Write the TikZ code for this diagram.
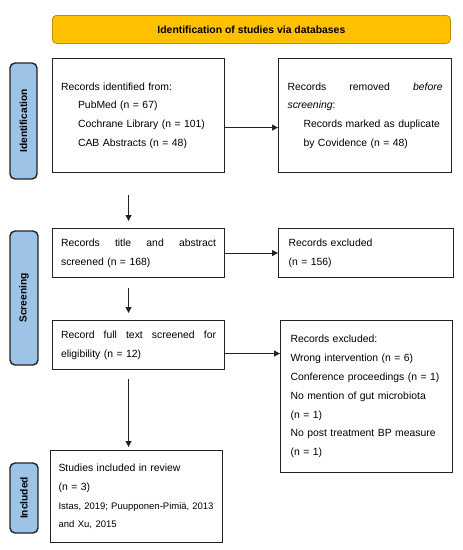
\documentclass[tikz,border=0pt]{standalone}
\usepackage{fontspec}
\setmainfont{Liberation Sans}
\usetikzlibrary{arrows.meta,calc}
\definecolor{banfill}{RGB}{255,192,0}
\definecolor{bandraw}{RGB}{191,144,0}
\definecolor{sidefill}{RGB}{157,195,230}
\definecolor{linegray}{RGB}{35,35,35}
\begin{document}
\begin{tikzpicture}[x=1pt,y=-1pt,
  box/.style={draw=linegray, line width=1.1pt, rectangle, inner xsep=8.5pt, inner ysep=2pt,
    align=left, font=\fontsize{10.4}{18.8}\selectfont, anchor=north west,
    minimum width=172pt, text width=155pt},
  banner/.style={draw=bandraw, fill=banfill, line width=0.8pt, rounded corners=4pt,
    font=\fontsize{10.4}{12}\selectfont\bfseries, anchor=north west},
  sidelab/.style={draw=linegray, fill=sidefill, line width=1.4pt, rounded corners=5pt,
    font=\fontsize{10.2}{12}\selectfont\bfseries, rotate=90, inner sep=0pt},
  arr/.style={draw=linegray, line width=0.9pt, -{Triangle[length=6pt,width=6pt]}}
]
\useasboundingbox (0,0) rectangle (463,550);

% banner
\node[banner, minimum width=398pt, minimum height=28pt] (ban) at (52,15) {Identification of studies via databases};

% side labels
\node[sidelab, minimum width=116pt, minimum height=27pt] (s1) at (23.5,121) {Identification};
\node[sidelab, minimum width=134pt, minimum height=28pt] (s2) at (24,298) {Screening};
\node[sidelab, minimum width=70pt, minimum height=28pt] (s3) at (24,498) {Included};

% boxes
\node[box, minimum height=114pt] (b1) at (52,58) {Records identified from:\\
\hspace*{17pt}PubMed (n = 67)\\
\hspace*{17pt}Cochrane Library (n = 101)\\
\hspace*{17pt}CAB Abstracts (n = 48)};

\node[box, minimum width=173pt, inner xsep=9pt, minimum height=114pt] (b2) at (278,58) {\makebox[155pt][l]{Records\hfill removed\hfill \textit{before}}\\
\textit{screening}:\\
\hspace*{16pt}Records marked as duplicate\\
\hspace*{16pt}by Covidence (n = 48)};

\node[box, minimum height=49pt] (b3) at (52,228) {\makebox[155pt][l]{Records\hfill title\hfill and\hfill abstract}\\
screened (n = 168)};

\node[box, minimum width=174pt, inner xsep=10pt, minimum height=49pt] (b4) at (278,228) {Records excluded\\
(n = 156)};

\node[box, minimum height=49pt] (b5) at (52,320) {\makebox[155pt][l]{Record\hfill full\hfill text\hfill screened\hfill for}\\
eligibility (n = 12)};

\node[box, inner xsep=10pt, text width=152pt, minimum height=152pt] (b6) at (280,320) {Records excluded:\\
Wrong intervention (n = 6)\\
Conference proceedings (n = 1)\\
No mention of gut microbiota\\
(n = 1)\\
No post treatment BP measure\\
(n = 1)};

\node[box, inner xsep=8pt, text width=156pt, minimum height=92pt] (b7) at (50,450) {Studies included in review\\
(n = 3)\\
{\fontsize{9.5}{18.8}\selectfont\makebox[155pt][l]{Istas,\hfill 2019;\hfill Puupponen-Pimiä,\hfill 2013}\\
and Xu, 2015}};

% horizontal arrows
\draw[arr] ([yshift=-12pt]b1.east) -- ([yshift=-12pt]b2.west);
\draw[arr] (b3.east) -- (b4.west);
\coordinate (a5) at ([yshift=-8.5pt]b5.east);
\draw[arr] (a5) -- (a5 -| b6.west);

% vertical arrows
\coordinate (d1s) at ([xshift=-10pt,yshift=-22pt]b1.south);
\coordinate (d1e) at ([xshift=-10pt,yshift=7pt]b3.north);
\draw[arr] (d1s) -- (d1e);
\coordinate (d2s) at ([xshift=-10pt,yshift=-10pt]b3.south);
\coordinate (d2e) at ([xshift=-10pt,yshift=7pt]b5.north);
\draw[arr] (d2s) -- (d2e);
\coordinate (d3s) at ([xshift=-10pt,yshift=-9pt]b5.south);
\coordinate (d3e) at ([xshift=-8pt,yshift=3pt]b7.north);
\draw[arr] (d3s) -- (d3e);
\end{tikzpicture}
\end{document}
